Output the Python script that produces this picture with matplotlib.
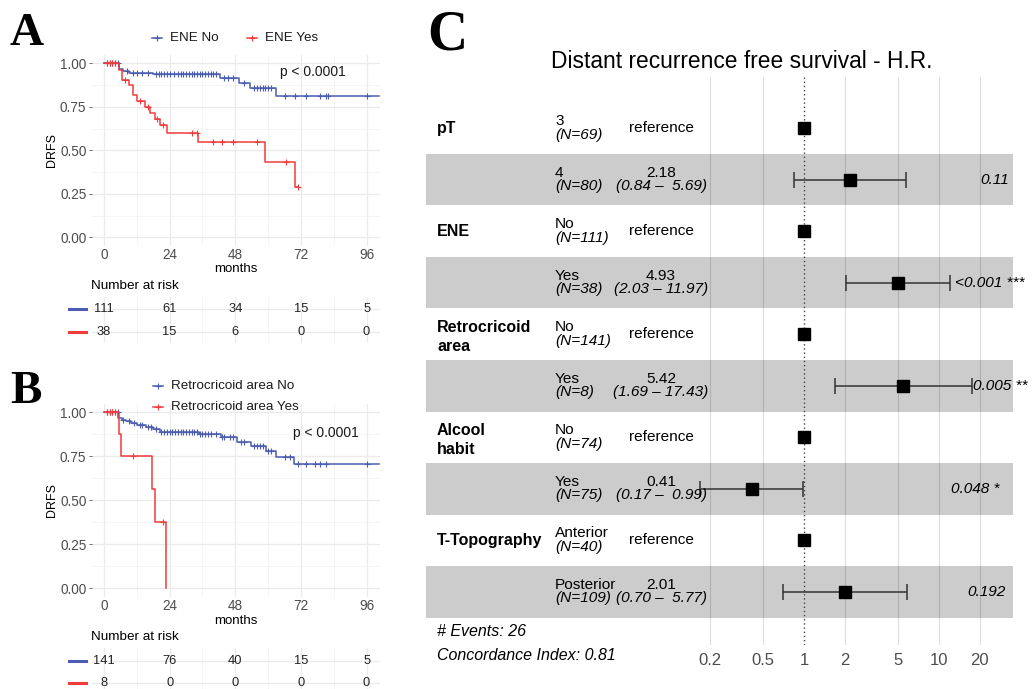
import numpy as np
import matplotlib.pyplot as plt
from matplotlib.lines import Line2D

plt.rcParams['font.family'] = ['Liberation Sans', 'DejaVu Sans']

# ---------------- data ----------------
# panel A : ENE
a_no_times = [0, 5.5, 6.8, 9.2, 17.8, 42.5, 49.5, 53.5, 63.0]
a_no_surv = [1.0, 0.967, 0.957, 0.947, 0.94, 0.913, 0.888, 0.857, 0.81]
a_no_end = 100.5
a_no_cens = [1, 2, 3, 4, 5, 8.5, 10.5, 12, 14, 16, 19, 20, 21, 22, 23, 24, 25.5, 27, 28, 29,
             30, 31, 32, 33, 34, 35, 36, 37, 38, 39, 40, 41, 44, 45.5, 47, 51, 55, 56, 57, 58,
             59, 60, 61, 66, 70, 74, 79, 81, 82, 96]
a_yes_times = [0, 5.5, 6.5, 9.2, 10.7, 12.2, 15.0, 16.8, 18.6, 20.5, 23.1, 34.5, 58.8, 69.8]
a_yes_surv = [1.0, 0.96, 0.905, 0.875, 0.815, 0.785, 0.75, 0.715, 0.68, 0.645, 0.60, 0.545,
              0.435, 0.29]
a_yes_end = 71
a_yes_cens = [1, 2, 3, 4, 7.5, 13, 16, 19.5, 21.5, 32, 34, 40, 43, 47, 56, 66.5, 71]
a_risk_no = [111, 61, 34, 15, 5]
a_risk_yes = [38, 15, 6, 0, 0]

# panel B : retrocricoid area
b_no_times = [0, 5.2, 6.5, 8.2, 10, 12, 15.5, 17.9, 20.4, 34.7, 42.8, 48.5, 53.7, 59.2, 62.8, 69.5]
b_no_surv = [1.0, 0.966, 0.957, 0.948, 0.937, 0.926, 0.915, 0.905, 0.888, 0.877, 0.858, 0.833,
             0.809, 0.782, 0.748, 0.706]
b_no_end = 100.5
b_no_cens = [1, 2, 3, 4, 5, 7, 9, 11, 13, 14, 16, 17, 19, 21, 22, 23, 24, 25, 26, 27, 28, 29, 30,
             31, 32, 33, 34, 35, 36, 37, 38, 39, 41, 43, 44, 46, 47, 50, 51, 55, 56, 57, 58, 60,
             61, 66, 68, 71, 74, 77, 79, 81, 96]
b_yes_times = [0, 5.6, 6.3, 17.7, 18.5, 22.8]
b_yes_surv = [1.0, 0.875, 0.75, 0.5625, 0.375, 0.0]
b_yes_end = 22.8
b_yes_cens = [1, 2, 3, 4, 10.5, 21.5]
b_risk_no = [141, 76, 40, 15, 5]
b_risk_yes = [8, 0, 0, 0, 0]

risk_times = [0, 24, 48, 72, 96]

# panel C : forest plot
fp_vars = ["pT", "", "ENE", "", "Retrocricoid\narea", "", "Alcool\nhabit", "", "T-Topography", ""]
fp_levels = ["3", "4", "No", "Yes", "No", "Yes", "No", "Yes", "Anterior", "Posterior"]
fp_n = [69, 80, 111, 38, 141, 8, 74, 75, 40, 109]
fp_hr = [1, 2.18, 1, 4.93, 1, 5.42, 1, 0.41, 1, 2.01]
fp_lo = [None, 0.84, None, 2.03, None, 1.69, None, 0.17, None, 0.70]
fp_hi = [None, 5.69, None, 11.97, None, 17.43, None, 0.99, None, 5.77]
fp_p = ["", "0.11", "", "<0.001 ***", "", "0.005 **", "", "0.048 *", "", "0.192"]
fp_breaks = [0.2, 0.5, 1, 2, 5, 10, 20]
n_events = 26
c_index = 0.81

BLUE = '#4A5DB0'
RED = '#F03C3C'
GRAY30 = '#4d4d4d'

W, H = 1032, 689
fig = plt.figure(figsize=(W / 100, H / 100), dpi=100)


def box(l, t, r, b):
    return [l / W, 1 - b / H, (r - l) / W, (b - t) / H]


def fx(x):
    return x / W


def fy(y):
    return 1 - y / H


def surv_at(t, times, surv):
    idx = np.searchsorted(times, t, side='right') - 1
    return np.asarray(surv)[idx]


def km_curve(ax, times, surv, end, cens, color):
    x = list(times) + [end]
    y = list(surv) + [surv[-1]]
    ax.step(x, y, where='post', color=color, lw=1.1, zorder=3)
    cens = np.asarray(cens)
    ax.plot(cens, surv_at(cens, times, surv), '+', color=color, ms=4.5, mew=0.8, zorder=3)


def km_panel(top, bottom, curves):
    ax = fig.add_axes(box(92, top, 380, bottom))
    for c in curves:
        km_curve(ax, *c)
    ax.set_xlim(-4.4, 100.9)
    ax.set_ylim(-0.05, 1.05)
    ax.set_xticks(risk_times)
    ax.set_xticks([12, 36, 60, 84], minor=True)
    ax.set_yticks([0, 0.25, 0.5, 0.75, 1.0])
    ax.set_yticklabels(['0.00', '0.25', '0.50', '0.75', '1.00'])
    ax.set_yticks([0.125, 0.375, 0.625, 0.875], minor=True)
    ax.grid(which='major', color='#ebebeb', lw=0.9)
    ax.grid(which='minor', color='#f2f2f2', lw=0.5)
    ax.set_axisbelow(True)
    for s in ax.spines.values():
        s.set_visible(False)
    ax.tick_params(which='major', labelsize=9.8, labelcolor=GRAY30, length=2.5,
                   color='#333333', width=0.5, pad=1.5)
    ax.tick_params(axis='x', length=0, pad=1.5)
    ax.tick_params(which='minor', length=0)
    return ax


def risk_table(top, bottom, rows_px, no_vals, yes_vals):
    r0, r1 = rows_px
    unit = r1 - r0
    ax = fig.add_axes(box(92, top, 380, bottom))
    ax.set_xlim(-4.4, 100.9)
    ax.set_ylim(1 - (bottom - r1) / unit, 2 + (r0 - top) / unit)
    for t, v in zip(risk_times, no_vals):
        ax.text(t, 2, str(v), ha='center', va='center', fontsize=9.3, color='#222222')
    for t, v in zip(risk_times, yes_vals):
        ax.text(t, 1, str(v), ha='center', va='center', fontsize=9.3, color='#222222')
    ax.set_xticks(risk_times)
    ax.set_xticks([12, 36, 60, 84], minor=True)
    ax.set_yticks([1, 2])
    ax.grid(which='major', color='#ebebeb', lw=0.9)
    ax.grid(which='minor', axis='x', color='#f2f2f2', lw=0.5)
    ax.set_axisbelow(True)
    ax.tick_params(which='both', length=0, labelbottom=False, labelleft=False)
    for s in ax.spines.values():
        s.set_visible(False)
    for y, col in ((r0, BLUE), (r1, RED)):
        fig.add_artist(Line2D([fx(69), fx(86)], [fy(y), fy(y)], color=col, lw=2.2))


def legend_entry(x, y, label, color):
    fig.add_artist(Line2D([fx(x), fx(x + 10)], [fy(y), fy(y)], color=color, lw=1.1))
    fig.add_artist(Line2D([fx(x + 5)], [fy(y)], color=color, marker='+', ms=4.5, mew=0.8))
    fig.text(fx(x + 18), fy(y), label, fontsize=9.6, va='center', ha='left', color='#1a1a1a')


# ---------------- panel A ----------------
km_panel(54.6, 246, [(a_no_times, a_no_surv, a_no_end, a_no_cens, BLUE),
                     (a_yes_times, a_yes_surv, a_yes_end, a_yes_cens, RED)])
legend_entry(152, 38, 'ENE No', BLUE)
legend_entry(247, 38, 'ENE Yes', RED)
fig.text(fx(280), fy(72), 'p < 0.0001', fontsize=10, va='center', color='#1a1a1a')
fig.text(fx(52), fy(150), 'DRFS', rotation=90, fontsize=9, ha='center', va='center')
fig.text(fx(236), fy(269.5), 'months', fontsize=9.5, ha='center', va='center')
fig.text(fx(91), fy(286), 'Number at risk', fontsize=9.7, ha='left', va='center')
risk_table(297, 343, (309.3, 331.7), a_risk_no, a_risk_yes)
fig.text(fx(10), fy(45), 'A', family='Liberation Serif', weight='bold', fontsize=34)

# ---------------- panel B ----------------
km_panel(403.5, 597.1, [(b_no_times, b_no_surv, b_no_end, b_no_cens, BLUE),
                        (b_yes_times, b_yes_surv, b_yes_end, b_yes_cens, RED)])
legend_entry(153, 386, 'Retrocricoid area No', BLUE)
legend_entry(153, 407, 'Retrocricoid area Yes', RED)
fig.text(fx(293), fy(433), 'p < 0.0001', fontsize=10, va='center', color='#1a1a1a')
fig.text(fx(52), fy(500), 'DRFS', rotation=90, fontsize=9, ha='center', va='center')
fig.text(fx(236), fy(620.5), 'months', fontsize=9.5, ha='center', va='center')
fig.text(fx(91), fy(637), 'Number at risk', fontsize=9.7, ha='left', va='center')
risk_table(648, 689, (660.7, 682.7), b_risk_no, b_risk_yes)
fig.text(fx(10), fy(403), 'B', family='Liberation Serif', weight='bold', fontsize=34)

# ---------------- panel C ----------------
ONE_PX, DEC_PX = 804, 135
ROW0, ROWH = 128, 51.55
L, R, T, B = 426, 1013, 77, 645
axf = fig.add_axes(box(L, T, R, B))
axf.set_xscale('log')
axf.set_xlim(10 ** ((L - ONE_PX) / DEC_PX), 10 ** ((R - ONE_PX) / DEC_PX))
axf.set_ylim((B - ROW0) / ROWH, (T - ROW0) / ROWH)
for b in fp_breaks:
    if b != 1:
        axf.axvline(b, color='#dedede', lw=0.8, zorder=0)
for i in range(len(fp_levels)):
    if i % 2 == 1:
        axf.axhspan(i - 0.5, i + 0.5, color='black', alpha=0.2, lw=0, zorder=1)
axf.axvline(1, color='#444444', lw=1.0, ls=(0, (1, 2)), zorder=2)
for i, (hr, lo, hi) in enumerate(zip(fp_hr, fp_lo, fp_hi)):
    if lo is not None:
        axf.errorbar(hr, i, xerr=[[hr - lo], [hi - hr]], fmt='none', ecolor='#333333',
                     elinewidth=1.1, capsize=5.5, capthick=1.1, zorder=3)
    axf.plot(hr, i, 's', ms=8.5, color='black', zorder=4)
axf.set_xticks(fp_breaks)
axf.set_xticklabels(['%g' % b for b in fp_breaks])
axf.xaxis.set_minor_locator(plt.NullLocator())
axf.set_yticks([])
axf.tick_params(axis='x', length=0, labelsize=12, labelcolor=GRAY30, pad=6)
for s in axf.spines.values():
    s.set_visible(False)

# left edges (px) of the p-value labels, in row order of the non-empty ones
p_left = iter([980, 955, 973, 951, 967])

hi_w = max(len('%.2f' % h) for h in fp_hi if h is not None)
for i in range(len(fp_levels)):
    yc = ROW0 + ROWH * i
    if fp_vars[i]:
        dy = 3 if '\n' in fp_vars[i] else 0
        fig.text(fx(437), fy(yc + dy), fp_vars[i], weight='bold', fontsize=11.5,
                 ha='left', va='center', linespacing=1.35)
    fig.text(fx(555), fy(yc - 7), fp_levels[i], fontsize=11.1, ha='left', va='center')
    fig.text(fx(555), fy(yc + 6.5), '(N=%d)' % fp_n[i], fontsize=11.1, style='italic',
             ha='left', va='center')
    if fp_lo[i] is None:
        fig.text(fx(661), fy(yc), 'reference', fontsize=11.1, ha='center', va='center')
    else:
        fig.text(fx(661), fy(yc - 7), '%.2f' % fp_hr[i], fontsize=11.1,
                 ha='center', va='center')
        ci = '(%.2f \u2013 %s)' % (fp_lo[i], ('%.2f' % fp_hi[i]).rjust(hi_w))
        fig.text(fx(661), fy(yc + 6.5), ci, fontsize=11.1, style='italic',
                 ha='center', va='center')
    if fp_p[i]:
        fig.text(fx(next(p_left)), fy(yc), fp_p[i], fontsize=11.1, style='italic',
                 ha='left', va='center')

fig.text(fx(437), fy(632), '# Events: %d' % n_events, fontsize=11.5, style='italic',
         ha='left', va='center')
fig.text(fx(437), fy(656), 'Concordance Index: %.2f' % c_index, fontsize=11.5,
         style='italic', ha='left', va='center')
fig.text(fx(742), fy(62), 'Distant recurrence free survival - H.R.', fontsize=16.4,
         ha='center', va='center')
fig.text(fx(427), fy(50), 'C', family='Liberation Serif', weight='bold', fontsize=40)

fig.savefig('out.png', dpi=100)
